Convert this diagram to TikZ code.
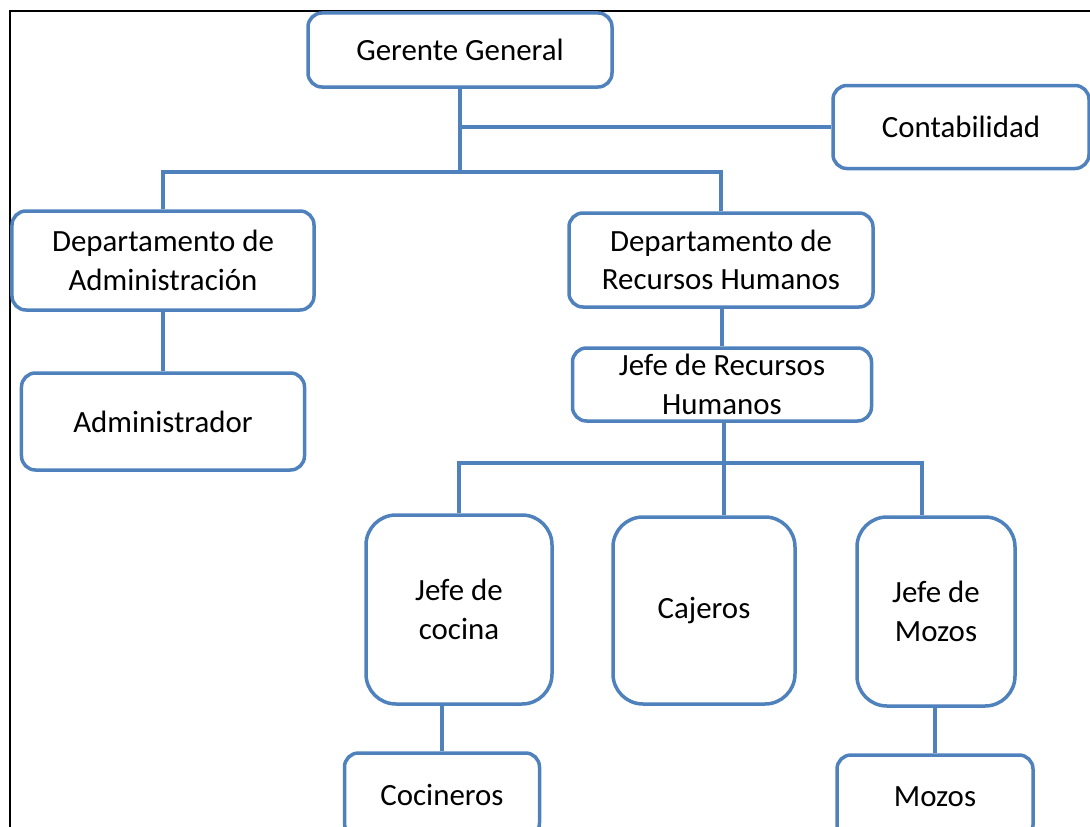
\documentclass[tikz,border=0pt]{standalone}
\usepackage{fontspec}
\setmainfont{Carlito}
\usepackage{tikz}
\usetikzlibrary{positioning, calc}

\definecolor{orgblue}{RGB}{79,129,189}

\begin{document}
\begin{tikzpicture}[
    x=1bp, y=-1bp,
    box/.style={rectangle, draw=orgblue, line width=3.5bp, rounded corners=14bp, fill=white,
        align=center, inner sep=0pt, font=\fontsize{31}{38.5}\selectfont},
    tallbox/.style={box, rounded corners=30bp},
    link/.style={draw=orgblue, line width=3.5bp},
    frame/.style={draw=black, line width=1.2bp}
]
\useasboundingbox (0,0) rectangle (1090,827);

% --- Marco ---
\draw[frame] (10,827) -- (10,11) -- (1090,11);

% --- Nivel superior ---
\node[box, minimum width=304bp, minimum height=74bp] (gerente) at (460,50) {Gerente General};
\node[box, minimum width=256bp, minimum height=83bp] (conta) at (961,127) {Contabilidad};

% --- Departamentos ---
\node[box, minimum width=302bp, minimum height=99bp] (deptadm) at (163,260.5)
    {Departamento de\\Administraci\'on};
\node[box, minimum width=304bp, minimum height=94bp] (deptrh) at (721,260)
    {Departamento de\\Recursos Humanos};

\node[box, minimum width=283bp, minimum height=97bp] (admin) at (163,421.5) {Administrador};
\node[box, minimum width=299bp, minimum height=73bp] (jeferh) at (722,384.5)
    {Jefe de Recursos\\Humanos};

% --- Jefaturas ---
\node[tallbox, minimum width=186bp, minimum height=189bp] (jcocina) at (459,609.5) {Jefe de\\cocina};
\node[tallbox, minimum width=182bp, minimum height=187bp] (cajeros) at (704,610.5) {Cajeros};
\node[tallbox, minimum width=158bp, minimum height=189bp] (jmozos) at (936,611.5) {Jefe de\\Mozos};

% --- Personal ---
\node[box, minimum width=195bp, minimum height=84bp] (cocineros) at (442,795) {Cocineros};
\node[box, minimum width=196bp, minimum height=84bp] (mozos) at (935,797) {Mozos};

% === CONECTORES ===
\coordinate (busA) at (460,172);
\coordinate (busB) at (724,463);

\draw[link] (gerente.south) -- (busA);
\draw[link] (gerente.south |- conta.west) -- (conta.west);
\draw[link] (deptadm.north) |- (busA) -| (deptrh.north);

\draw[link] (deptadm.south) -- (admin.north);
\draw[link] (deptrh.south -| jeferh.north) -- (jeferh.north);

\draw[link] (jeferh.south -| busB) -- (busB);
\draw[link] (jcocina.north) |- (busB) -| ([xshift=-14bp]jmozos.north);
\draw[link] (busB) -- (busB |- cajeros.north);

\draw[link] (cocineros.north |- jcocina.south) -- (cocineros.north);
\draw[link] (mozos.north |- jmozos.south) -- (mozos.north);

\end{tikzpicture}
\end{document}
